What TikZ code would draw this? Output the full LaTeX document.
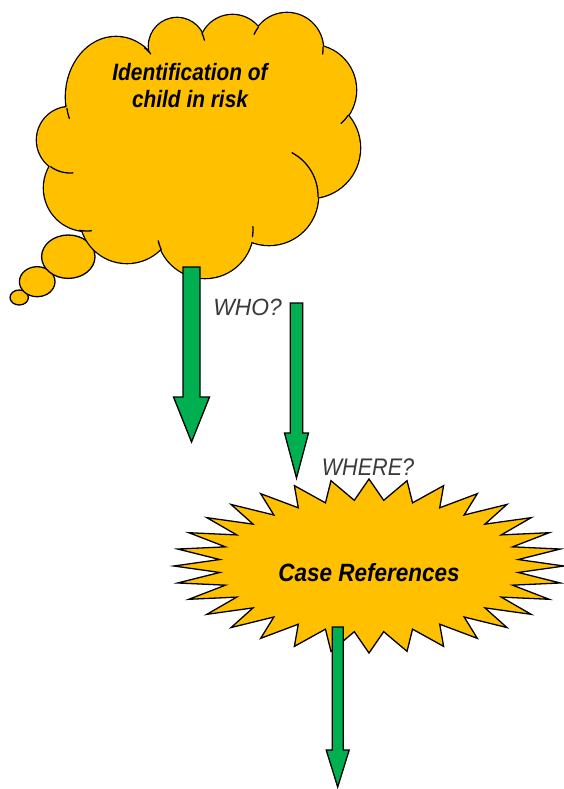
\documentclass[tikz,border=0pt]{standalone}
\usepackage{fontspec}
\setmainfont{Liberation Sans}
\newfontfamily\cloudfont[FakeStretch=0.88]{Liberation Sans}
\newfontfamily\burstfont[FakeStretch=0.90]{Liberation Sans}
\newfontfamily\whofont[FakeStretch=0.97]{Liberation Sans}
\newfontfamily\wherefont[FakeStretch=0.90]{Liberation Sans}
\definecolor{gold}{HTML}{FFC000}
\definecolor{leaf}{HTML}{00B050}
\definecolor{askgray}{HTML}{3A3A3A}

% block arrow pointing down: name, centre x, top y, head base y, tip y, shaft half width, head half width
\newcommand\greenarrow[7]{%
  \coordinate (#1top) at (#2,#3);
  \coordinate (#1tip) at (#2,#5);
  \draw[arrowbody] (#2-#6,#3) -- (#2+#6,#3) -- (#2+#6,#4) -- (#2+#7,#4)
    -- (#1tip) -- (#2-#7,#4) -- (#2-#6,#4) -- cycle;
}

\begin{document}
\begin{tikzpicture}[x=1pt,y=-1pt,line join=round,
  lobe/.style={fill=gold,draw=black,line width=2.6pt},
  crease/.style={draw=black,line width=1.3pt,line cap=round},
  bubble/.style={fill=gold,draw=black,line width=1.3pt},
  burst/.style={fill=gold,draw=black,line width=1.3pt,line join=miter},
  arrowbody/.style={fill=leaf,draw=black,line width=1.3pt,line join=miter},
  boldlabel/.style={text=black,inner sep=0pt},
  asklabel/.style={text=askgray,inner sep=0pt}]

\useasboundingbox (0,0) rectangle (563,789);

% thought bubbles
\path[bubble] (19.2,297.5) ellipse [x radius=9.2,y radius=7.5];
\path[bubble] (37.2,281.7) ellipse [x radius=17.8,y radius=15];
\path[bubble] (68.3,256.7) ellipse [x radius=26.7,y radius=21.7];

% cloud: stroked lobes, then the interior refilled so only the outer rim stays
\foreach \cx/\cy/\rx/\ry in {116/97/50/60,177/46/28/28,232.5/48/33/33,287/49/36/36,
    311/90/45/45,310/148/50/50,269/196/49/49,205/230/48/48,127/216/47/47,
    87/188/43/43,70/140/33/33}
  \path[lobe] (\cx,\cy) ellipse [x radius=\rx,y radius=\ry];
\fill[gold] (116,97) -- (177,46) -- (232.5,48) -- (287,49) -- (311,90) -- (310,148)
  -- (269,196) -- (205,230) -- (127,216) -- (87,188) -- (70,140) -- cycle;
\foreach \cx/\cy/\rx/\ry in {116/97/50/60,177/46/28/28,232.5/48/33/33,287/49/36/36,
    311/90/45/45,310/148/50/50,269/196/49/49,205/230/48/48,127/216/47/47,
    87/188/43/43,70/140/33/33}
  \fill[gold] (\cx,\cy) ellipse [x radius=\rx,y radius=\ry];

% creases where the lobes overlap
\draw[crease,shift={(116,97)}] (169:50 and 60) arc (169:159:50 and 60);
\draw[crease,shift={(116,97)}] (-55:50 and 60) arc (-55:-46:50 and 60);
\draw[crease,shift={(70,140)}] (126:33) arc (126:85:33);
\draw[crease,shift={(87,188)}] (100:43) arc (100:84:43);
\draw[crease,shift={(205,230)}] (156:48) arc (156:167:48);
\draw[crease,shift={(205,230)}] (8:48) arc (8:-4:48);
\draw[crease,shift={(269,196)}] (1:49) arc (1:-62:49);
\draw[crease,shift={(311,90)}] (34:45) arc (34:48:45);
\draw[crease,shift={(287,49)}] (-3:36) arc (-3:8:36);
\draw[crease,shift={(287,49)}] (217:36) arc (217:204:36);
\draw[crease,shift={(177,46)}] (-27:28) arc (-27:-12:28);

% the base anchor of this two-line node sits on the second line
\node[boldlabel,font=\cloudfont\bfseries\itshape\fontsize{23.7}{28}\selectfont,
  align=center,anchor=base] (idtext) at (190,108) {Identification of\\child in risk};

% arrow leaving the cloud
\greenarrow{a1}{191.5}{267}{397}{442}{8.5}{18}

% starburst
\path[burst,shift={(369,566)}] (0:195 and 87)
  \foreach \k in {1,...,32}{ -- ({(\k-0.5)*11.25}:150 and 66) -- ({\k*11.25}:195 and 87)}
  -- cycle;
\node[boldlabel,font=\burstfont\bfseries\itshape\fontsize{25}{30}\selectfont,
  anchor=base] (case) at (369,581) {Case References};

\greenarrow{a2}{296.5}{303}{433}{478}{6.3}{12}
\greenarrow{a3}{337.7}{627}{750}{787}{5.5}{11.5}

\node[asklabel,font=\whofont\itshape\fontsize{23.5}{28}\selectfont,anchor=base]
  (who) at (247.5,315) {WHO?};
\node[asklabel,font=\wherefont\itshape\fontsize{24}{28}\selectfont,anchor=base]
  (where) at (368,475.7) {WHERE?};

\end{tikzpicture}
\end{document}
